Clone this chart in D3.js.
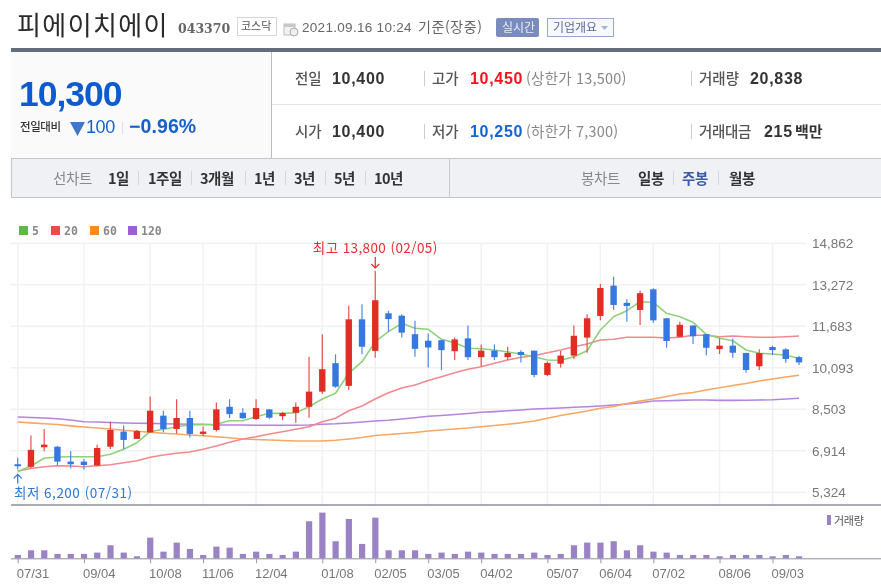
<![CDATA[<!DOCTYPE html>
<html lang="ko"><head><meta charset="utf-8">
<script src="https://cdn.jsdelivr.net/npm/d3@7/dist/d3.min.js"></script>
<style>
html,body{margin:0;padding:0;background:#fff;width:881px;height:588px;overflow:hidden}
svg{display:block;filter:blur(.35px)}
text{font-family:"Noto Sans CJK KR","Liberation Sans",sans-serif}
.num{font-family:"Liberation Sans","Noto Sans CJK KR",sans-serif}
</style></head><body><svg id="c" width="881" height="588"></svg>
<script>
// ---------- data ----------
const open  = [6400,6300,7050,7070,6500,6500,6350,7070,7650,7370,7620,8260,7750,8170,7560,7710,8600,8370,8130,8500,8240,8370,8600,9180,10270,9400,11950,10740,12180,12090,11380,11130,11150,10730,11220,10500,10750,10500,10700,10750,9820,10250,10560,11250,12080,13240,12580,12310,13100,11990,11280,11710,11380,10810,10940,10660,10150,10890,10800,10500];
const high  = [6650,7500,7750,7100,6900,6600,7150,8030,7880,7710,8990,8450,8890,8450,7840,8760,8890,8540,8890,8510,8410,8760,10520,11380,10610,12470,12530,13800,12280,12140,11900,11410,11160,11250,11710,10990,10990,10900,10770,10750,10330,10740,11710,12140,13300,13580,12720,13050,13140,12000,11860,11730,11390,11220,11220,10670,10800,10940,10840,10550];
const low   = [6200,6250,6900,6350,6250,6200,6320,6980,6980,7370,7600,7620,7580,7420,7480,7650,8170,8130,8090,8140,8090,7990,8180,9090,9330,9240,10610,10480,11480,11250,10520,10100,10010,10390,10390,10140,10390,10390,10300,9730,9780,10100,10430,10670,11910,12310,11860,11730,11820,10860,11260,11000,10570,10620,10480,9900,10010,10580,10290,10200];
const close = [6350,6950,7150,6500,6400,6370,7020,7710,7330,7670,8450,7750,8170,7560,7650,8500,8320,8160,8550,8180,8360,8600,9180,10040,9370,11950,10900,12680,11960,11440,10820,10870,10770,11180,10500,10750,10500,10660,10580,9820,10280,10560,11320,11990,13150,12500,12460,12950,11910,11120,11740,11300,10860,10940,10670,10010,10660,10770,10430,10300];
const ma5   = [6110,6331,6626,6675,6687,6687,6687,6779,6970,7223,7645,7737,7836,7913,7913,7930,8066,8066,8219,8349,8349,8373,8602,8897,9116,9882,10326,11092,11476,11797,11606,11567,11184,11054,10840,10824,10774,10698,10621,10518,10391,10380,10518,10748,11541,12050,12280,12625,12602,12180,12050,11836,11376,11223,11131,10774,10648,10621,10571,10456];
const ma20  = [6139,6235,6304,6342,6331,6304,6342,6380,6457,6534,6664,6752,6817,6867,6970,7100,7239,7365,7453,7556,7645,7737,7836,8028,8158,8449,8629,8897,9139,9319,9434,9606,9752,9905,10035,10135,10265,10391,10495,10556,10671,10774,10901,11004,11158,11184,11261,11261,11261,11234,11261,11338,11338,11284,11311,11284,11261,11261,11284,11311];
const ma60  = [8016,7985,7951,7920,7870,7824,7786,7748,7698,7660,7622,7587,7556,7518,7491,7453,7411,7365,7346,7327,7307,7288,7288,7288,7315,7365,7423,7499,7538,7576,7614,7672,7710,7748,7786,7836,7882,7928,7985,8054,8158,8265,8349,8437,8541,8610,8725,8821,8898,8993,9089,9147,9243,9331,9415,9491,9587,9664,9741,9806];
const ma120 = [8208,8188,8169,8142,8093,8028,8016,7997,7978,7970,7966,7951,7940,7932,7928,7901,7901,7901,7894,7890,7890,7890,7901,7928,7947,7978,8016,8054,8085,8131,8181,8235,8265,8304,8342,8388,8415,8445,8476,8514,8533,8553,8579,8602,8629,8667,8706,8756,8821,8828,8844,8859,8859,8847,8847,8851,8859,8871,8897,8924];
const volume= [35,84,84,46,46,46,60,137,60,21,217,70,165,98,35,123,112,46,70,46,35,70,389,480,179,413,151,427,84,84,84,46,60,46,70,60,46,46,46,60,35,46,137,165,165,179,84,137,70,60,35,35,35,21,35,35,35,21,35,21];
const tickIdx   = [0,5,10,14,18,23,27,31,35,40,44,48,53,57];
const tickDates = ["07/31","09/04","10/08","11/06","12/04","01/08","02/05","03/05","04/02","05/07","06/04","07/02","08/06","09/03"];
const priceTicks= [14862,13272,11683,10093,8503,6914,5324];
const maSeries  = [{k:"120",d:ma120,c:"#b584dc"},{k:"60",d:ma60,c:"#f9a662"},{k:"20",d:ma20,c:"#f08a90"},{k:"5",d:ma5,c:"#8fd27c"}];
const legendItems=[{k:"5",c:"#5cbd3c",x:19},{k:"20",c:"#ee4a4c",x:51},{k:"60",c:"#fd8a1c",x:90},{k:"120",c:"#a05fd0",x:128}];

// ---------- scales ----------
const svg=d3.select("#c");
const x=d3.scaleLinear().domain([0,59]).range([17.7,799]);
const y=d3.scaleLinear().domain([5324,14862]).range([492.3,243.3]);
const yv=d3.scaleLinear().domain([0,480]).range([558.3,512.6]);
const UP="#e22d24",DN="#3578e0";

function T(s,px,py,o={}){
  return svg.append("text").attr("x",px).attr("y",py).text(s)
   .attr("font-size",o.fs||14).attr("font-weight",o.w||400).attr("fill",o.c||"#333")
   .attr("text-anchor",o.a||"start").attr("class",o.cl||null)
   .attr("letter-spacing",o.ls||null);
}
function R(a,b,w,h,f,s){return svg.append("rect").attr("x",a).attr("y",b).attr("width",w).attr("height",h).attr("fill",f).attr("stroke",s||"none");}
function L(a,b,c,d,s,w){return svg.append("line").attr("x1",a).attr("y1",b).attr("x2",c).attr("y2",d).attr("stroke",s).attr("stroke-width",w||1);}

// ---------- header ----------
T("피에이치에이",17,35,{fs:26,c:"#2a2a2a",w:400,ls:"1.4px"}).style("font-family",'"Noto Sans CJK KR"');
T("043370",178,32.5,{fs:12.5,w:700,c:"#666",cl:"num"}).style("font-family",'"DejaVu Serif"');
R(237.5,17.5,39,18,"#fff","#d6d6d6");
T("코스닥",241,30,{fs:11,c:"#555"});
// calendar icon
R(284,24,11,11,"#f2f2f2","#bbb");R(284,24,11,3,"#c8c8c8");
svg.append("circle").attr("cx",294).attr("cy",32).attr("r",4).attr("fill","#eee").attr("stroke","#aaa");
T("2021.09.16 10:24",302,32,{fs:13.5,c:"#666",cl:"num",ls:"0.3px"});
T("기준(장중)",418,32,{fs:14,c:"#666",ls:"0.6px"});
R(496,18,43,19,"#7a8cbd").attr("rx",2);
T("실시간",502,32,{fs:12,c:"#e8ecf6"});
R(547.5,18.5,66,18,"#f8f9fd","#9aa6cc");
T("기업개요",553,31.5,{fs:12,c:"#5a6a9a"});
svg.append("path").attr("d","M601 26h7l-3.5 4z").attr("fill","#aab2cc");

// summary panel
R(11,48,870,4,"#666d7a");
R(11,52,260,106,"#fafafa");
L(271.5,52,271.5,158,"#bdbdbd");
L(272,104.5,881,104.5,"#e4e4e4");
T("10,300",19,106,{fs:35.5,w:700,c:"#0c5cd0",cl:"num",ls:"-1px"});
T("전일대비",20,131,{fs:11.5,w:500,c:"#333",ls:"-0.4px"});
svg.append("path").attr("d","M70 122h15l-7.5 14z").attr("fill","#3f78c8");
T("100",86,133,{fs:18,w:400,c:"#1560cc",cl:"num",ls:"-0.4px"});
L(122.5,122,122.5,134,"#ddd");
T("−0.96%",129,133,{fs:19.5,w:700,c:"#1560cc",cl:"num",ls:"0.1px"});

const lab={fs:14.5,w:500,c:"#555"},num={fs:16,w:700,c:"#333",cl:"num",ls:"0.7px"},sub={fs:14.5,c:"#888",ls:"0.2px"};
T("전일",295,84,lab);T("10,400",332,84,num);
T("시가",295,137,lab);T("10,400",332,137,num);
L(424.5,71,424.5,86,"#ccc");L(424.5,124,424.5,139,"#ccc");
T("고가",432,84,lab);T("10,450",470,84,{...num,c:"#f4141e"});T("(상한가 13,500)",526,84,sub);
T("저가",432,137,lab);T("10,250",470,137,{...num,c:"#1464d2"});T("(하한가 7,300)",526,137,sub);
L(691.5,71,691.5,86,"#ccc");L(691.5,124,691.5,139,"#ccc");
T("거래량",699,84,lab);T("20,838",750,84,num);
T("거래대금",699,137,{...lab,ls:"-0.3px"});T("215",764,137,num);T("백만",795,137,{fs:15,w:700,c:"#333"});

// toolbar
R(11.5,158.5,875,39,"#eff1f5","#c4c6c9");
L(449.5,159,449.5,197,"#c8cacd");
const bar={fs:14.5,w:700,c:"#333"};
T("선차트",53,184,{fs:14.5,w:400,c:"#888",ls:"-0.4px"});
[["1일",108],["1주일",148],["3개월",200],["1년",254],["3년",294],["5년",334],["10년",374]].forEach(a=>T(a[0],a[1],184,{...bar,ls:"-0.5px"}));
[138,191,245,285,325,365].forEach(a=>L(a+.5,171,a+.5,185,"#d4d6da"));
T("봉차트",581,184,{fs:14.5,w:400,c:"#888",ls:"-0.4px"});
T("일봉",638,184,{...bar,ls:"-0.4px"});T("주봉",682,184,{...bar,c:"#3c5aa6",ls:"-0.4px"});T("월봉",729,184,{...bar,ls:"-0.4px"});
L(673.5,171,673.5,185,"#d4d6da");L(718.5,171,718.5,185,"#d4d6da");

// legend
legendItems.forEach(d=>{R(d.x,226,9,9,d.c);T(d.k,d.x+13,235,{fs:11.5,w:700,c:"#888",cl:"num"}).style("font-family",'"DejaVu Sans Mono"');});

// ---------- grid ----------
const gx=svg.append("g").attr("stroke","#f1f1f1").attr("stroke-width",1.4);
gx.selectAll("line.h").data(priceTicks).join("line").attr("x1",11).attr("x2",806).attr("y1",d=>y(d)).attr("y2",d=>y(d));
gx.selectAll("line.v").data(tickIdx).join("line").attr("x1",d=>x(d)).attr("x2",d=>x(d)).attr("y1",y(14862)).attr("y2",505);

// y axis labels
const ya=svg.append("g").attr("transform","translate(806,0)").call(d3.axisRight(y).tickValues(priceTicks).tickSize(0).tickPadding(6).tickFormat(d3.format(",")));
ya.select(".domain").remove();
ya.selectAll("text").attr("class","num").attr("font-size",13.5).attr("fill","#777").style("font-family",'"Liberation Sans"');

// ---------- moving averages ----------
const line=d3.line().x((d,i)=>x(i)).y(d=>y(d));
svg.append("g").attr("fill","none").selectAll("path").data(maSeries).join("path")
  .attr("d",s=>line(s.d)).attr("stroke",s=>s.c).attr("stroke-width",1.6).attr("stroke-linejoin","round");

// ---------- candles ----------
const idx=d3.range(open.length);
const cg=svg.append("g");
cg.selectAll("line").data(idx).join("line")
  .attr("x1",i=>x(i)).attr("x2",i=>x(i)).attr("y1",i=>y(high[i])).attr("y2",i=>y(low[i]))
  .attr("stroke",i=>close[i]>open[i]?"#e8504a":"#4c88e6").attr("stroke-width",1.2);
cg.selectAll("rect").data(idx).join("rect")
  .attr("x",i=>x(i)-3.2).attr("width",6.4)
  .attr("y",i=>y(Math.max(open[i],close[i])))
  .attr("height",i=>Math.max(2,Math.abs(y(open[i])-y(close[i]))))
  .attr("fill",i=>close[i]>open[i]?UP:DN);

// ---------- annotations ----------
const hi=d3.max(high),hiI=high.indexOf(hi),lo=d3.min(low),loI=low.indexOf(lo);
T("최고 "+d3.format(",")(hi)+" (02/05)",x(hiI),253,{fs:13.5,c:"#ee2a2e",a:"middle",ls:"0.4px"});
svg.append("path").attr("d",`M${x(hiI)} ${y(hi)-14}V${y(hi)-3}M${x(hiI)-4} ${y(hi)-7}L${x(hiI)} ${y(hi)-3}L${x(hiI)+4} ${y(hi)-7}`).attr("fill","none").attr("stroke","#d8322e").attr("stroke-width",1.2);
T("최저 "+d3.format(",")(lo)+" (07/31)",14,498,{fs:13.5,c:"#2a78d8",ls:"0.5px"});
svg.append("path").attr("d",`M${x(loI)} ${y(lo)+14}V${y(lo)+5}M${x(loI)-4} ${y(lo)+9}L${x(loI)} ${y(lo)+5}L${x(loI)+4} ${y(lo)+9}`).attr("fill","none").attr("stroke","#2a78d8").attr("stroke-width",1.2);

// ---------- panel rules and volume ----------
L(11,505,881,505,"#8d919a",1.3);
svg.append("g").selectAll("rect").data(idx).join("rect")
  .attr("x",i=>x(i)-3).attr("width",6.2)
  .attr("y",i=>yv(volume[i])).attr("height",i=>yv(0)-yv(volume[i]))
  .attr("fill","#9a82c4");
const xa=svg.append("g").attr("transform","translate(0,558.3)")
  .call(d3.axisBottom(x).tickValues(tickIdx).tickSize(5).tickPadding(5).tickFormat(d=>tickDates[tickIdx.indexOf(d)]));
xa.select(".domain").attr("d","M11 0.5H881").attr("stroke","#8d919a").attr("stroke-width",1);
xa.selectAll(".tick line").attr("stroke","#9a9a9a");
xa.selectAll("text").attr("class","num").attr("font-size",13).attr("fill","#777").attr("text-anchor","start").attr("dx",-1.5).style("font-family",'"Liberation Sans"');
R(827,515,4,10,"#9a82c4");
T("거래량",834,525,{fs:11,c:"#555",ls:"-0.3px"});
</script></body></html>]]>
